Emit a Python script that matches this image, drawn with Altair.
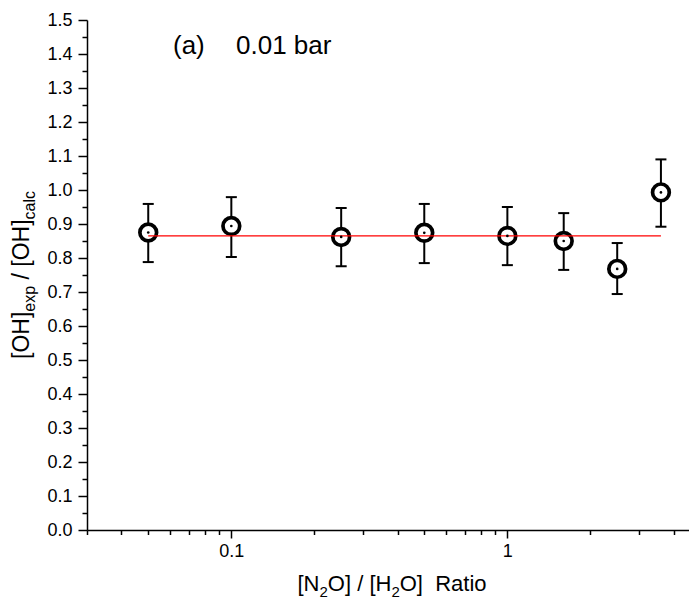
import altair as alt
import pandas as pd

# ---- data ----
ratio = [0.05, 0.1, 0.25, 0.5, 1.0, 1.6, 2.5, 3.6]
oh_ratio = [0.875, 0.894, 0.862, 0.874, 0.865, 0.850, 0.768, 0.993]
err_hi = [0.959, 0.979, 0.947, 0.959, 0.950, 0.932, 0.844, 1.090]
err_lo = [0.788, 0.803, 0.776, 0.785, 0.779, 0.765, 0.694, 0.892]
fit_x = [0.05, 3.6]
fit_y = [0.865, 0.865]

x_major = [0.1, 1]
x_minor = [0.03, 0.04, 0.05, 0.06, 0.07, 0.08, 0.09,
           0.2, 0.3, 0.4, 0.5, 0.6, 0.7, 0.8, 0.9, 2, 3, 4]
y_major = [0.0, 0.1, 0.2, 0.3, 0.4, 0.5, 0.6, 0.7, 0.8, 0.9, 1.0,
           1.1, 1.2, 1.3, 1.4, 1.5]
y_minor = [0.05, 0.15, 0.25, 0.35, 0.45, 0.55, 0.65, 0.75, 0.85, 0.95,
           1.05, 1.15, 1.25, 1.35, 1.45]

x_title_parts = [("[N", "main"), ("2", "sub"), ("O]", "main"), (" ", "gap"),
                 ("/", "main"), (" ", "gap"), ("[H", "main"), ("2", "sub"),
                 ("O]", "main"), ("  ", "gap"), ("Ratio", "main")]
y_title_parts = [("[OH]", "main"), ("exp", "sub"), (" ", "gap"), ("/", "main"),
                 (" ", "gap"), ("[OH]", "main"), ("calc", "sub")]
panel_label = "(a)"
pressure_label = "0.01 bar"

FONT = "Liberation Sans"
W, H = 602, 510

# Arial / Liberation Sans advance widths (1/1000 em)
CW = {'[': 278, ']': 278, 'O': 778, 'H': 722, 'N': 722, '/': 278, ' ': 278,
      'e': 556, 'x': 500, 'p': 556, 'c': 500, 'a': 556, 'l': 222, '2': 556,
      'R': 722, 't': 278, 'i': 222, 'o': 556}


def layout(parts, fmain, fsub):
    offs, o = [], 0.0
    for s, k in parts:
        offs.append(o)
        size = fsub if k == "sub" else fmain
        o += sum(CW[c] for c in s) / 1000 * size
    return offs, o


df = pd.DataFrame({"ratio": ratio, "val": oh_ratio, "hi": err_hi, "lo": err_lo})
fit = pd.DataFrame({"x": fit_x, "y": fit_y})

x_scale = alt.Scale(type="log", domain=[0.03, 4.55], nice=False)
y_scale = alt.Scale(domain=[0, 1.5], nice=False, zero=False)

x_major_axis = alt.Axis(orient="bottom", values=x_major, format="~g", tickSize=8,
                        tickWidth=1.5, domainWidth=1.5, domainColor="black",
                        tickColor="black", labelColor="black", labelFont=FONT,
                        labelFontSize=18, labelPadding=4, grid=False, title=None,
                        labelFlush=False, labelOverlap=False)
x_minor_axis = alt.Axis(orient="bottom", values=x_minor, labels=False, domain=False,
                        tickSize=4.5, tickWidth=1.5, tickColor="black", grid=False,
                        title=None)
y_major_axis = alt.Axis(orient="left", values=y_major, format=".1f", tickSize=9,
                        tickWidth=1.5, domainWidth=1.5, domainColor="black",
                        tickColor="black", labelColor="black", labelFont=FONT,
                        labelFontSize=18, labelPadding=6, grid=False, title=None,
                        labelFlush=False, labelOverlap=False)
y_minor_axis = alt.Axis(orient="left", values=y_minor, labels=False, domain=False,
                        tickSize=5, tickWidth=1.5, tickColor="black", grid=False,
                        title=None)

base = alt.Chart(df)

rules = base.mark_rule(color="black", strokeWidth=2).encode(
    x=alt.X("ratio:Q", scale=x_scale, axis=x_major_axis),
    y=alt.Y("lo:Q", scale=y_scale, axis=y_major_axis),
    y2="hi:Q",
)
minor = base.mark_point(opacity=0).encode(
    x=alt.X("ratio:Q", scale=x_scale, axis=x_minor_axis),
    y=alt.Y("val:Q", scale=y_scale, axis=y_minor_axis),
)
cap_hi = base.mark_tick(orient="horizontal", size=11, thickness=2, color="black",
                        opacity=1).encode(
    x=alt.X("ratio:Q", scale=x_scale, axis=None),
    y=alt.Y("hi:Q", scale=y_scale, axis=None),
)
cap_lo = base.mark_tick(orient="horizontal", size=11, thickness=2, color="black",
                        opacity=1).encode(
    x=alt.X("ratio:Q", scale=x_scale, axis=None),
    y=alt.Y("lo:Q", scale=y_scale, axis=None),
)
circles = base.mark_point(shape="circle", filled=True, fill="white", stroke="black",
                          strokeWidth=3.7, size=280, opacity=1).encode(
    x=alt.X("ratio:Q", scale=x_scale, axis=None),
    y=alt.Y("val:Q", scale=y_scale, axis=None),
)
fit_line = alt.Chart(fit).mark_line(color="#ff0000", strokeWidth=1.3).encode(
    x=alt.X("x:Q", scale=x_scale, axis=None),
    y=alt.Y("y:Q", scale=y_scale, axis=None),
)
dots = base.mark_circle(size=7, color="black", opacity=1).encode(
    x=alt.X("ratio:Q", scale=x_scale, axis=None),
    y=alt.Y("val:Q", scale=y_scale, axis=None),
)

one = alt.Data(values=[{}])
text_layers = []

# x-axis title (with subscripts)
XF, XFS = 22, 15
xo, xtot = layout(x_title_parts, XF, XFS)
x_start = (W + 8) / 2 - xtot / 2
x_base = H + 61
for (s, k), o in zip(x_title_parts, xo):
    if k == "gap":
        continue
    size = XFS if k == "sub" else XF
    yy = x_base + (6 if k == "sub" else 0)
    text_layers.append(
        alt.Chart(one).mark_text(text=s, font=FONT, fontSize=size, color="black",
                                 align="left", baseline="alphabetic").encode(
            x=alt.value(x_start + o), y=alt.value(yy))
    )

# y-axis title (rotated, with subscripts)
YF, YFS = 23, 16
yo, ytot = layout(y_title_parts, YF, YFS)
y_start = H / 2 + ytot / 2
y_base = -58
for (s, k), o in zip(y_title_parts, yo):
    if k == "gap":
        continue
    size = YFS if k == "sub" else YF
    xx = y_base + (6 if k == "sub" else 0)
    text_layers.append(
        alt.Chart(one).mark_text(text=s, font=FONT, fontSize=size, color="black",
                                 align="left", baseline="alphabetic",
                                 angle=270).encode(
            x=alt.value(xx), y=alt.value(y_start - o))
    )

# in-plot annotation
text_layers.append(
    alt.Chart(one).mark_text(text=panel_label, font=FONT, fontSize=26, color="black",
                             align="left", baseline="alphabetic").encode(
        x=alt.value(86), y=alt.value(34))
)
text_layers.append(
    alt.Chart(one).mark_text(text=pressure_label, font=FONT, fontSize=26,
                             color="black", align="left",
                             baseline="alphabetic").encode(
        x=alt.value(149), y=alt.value(34))
)

chart = alt.layer(rules, minor, cap_hi, cap_lo, circles, fit_line, dots,
                  *text_layers).resolve_axis(
    x="independent", y="independent"
).properties(
    width=W, height=H,
    autosize=alt.AutoSizeParams(type="none"),
    padding={"left": 79, "top": 12, "right": 0, "bottom": 73},
    background="white",
).configure_view(stroke=None)

chart.save("out.html", embed_options={"renderer": "svg", "actions": False})
